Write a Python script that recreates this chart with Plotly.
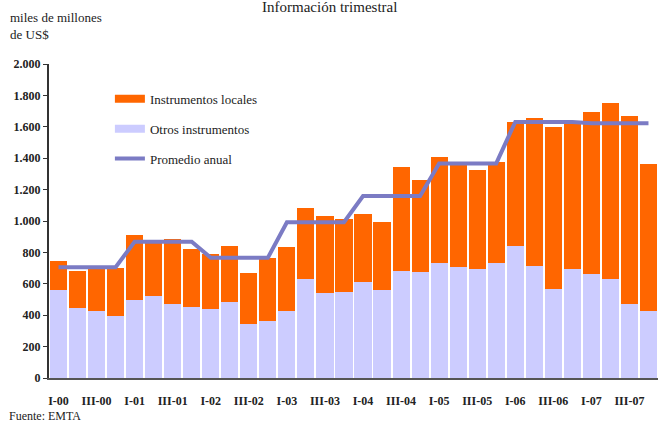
import plotly.graph_objects as go

# trimestres I-00 .. IV-07
years = ["00", "01", "02", "03", "04", "05", "06", "07"]
quarters = ["I", "II", "III", "IV"]
categorias = [f"{q}-{y}" for y in years for q in quarters]

# miles de millones de US$
otros = [560, 446, 427, 395, 497, 522, 471, 452,
         439, 484, 344, 363, 427, 631, 541, 548,
         612, 560, 683, 675, 732, 707, 694, 732,
         841, 713, 567, 694, 662, 631, 471, 427]
total = [745, 681, 700, 700, 911, 870, 885, 822,
         790, 841, 669, 764, 834, 1083, 1032, 1013,
         1045, 994, 1344, 1261, 1408, 1367, 1325, 1376,
         1631, 1656, 1599, 1625, 1694, 1752, 1669, 1363]
locales = [t - o for t, o in zip(total, otros)]
promedio_anual = [706, 868, 766, 992, 1159, 1367, 1631, 1622]
promedio = [p for p in promedio_anual for _ in quarters]

ticks_x = categorias[::2]
FONT = "Liberation Serif"
NARANJA = "#FF6600"
LILA = "#CCCCFF"
AZUL = "#7B7BC4"

fig = go.Figure()
fig.add_trace(go.Bar(x=categorias, y=otros, name="Otros instrumentos",
                     marker=dict(color=LILA, line=dict(width=0)),
                     showlegend=False))
fig.add_trace(go.Bar(x=categorias, y=locales, name="Instrumentos locales",
                     marker=dict(color=NARANJA, line=dict(width=0)),
                     showlegend=False))
fig.add_trace(go.Scatter(x=categorias, y=promedio, name="Promedio anual",
                         mode="lines", line=dict(color=AZUL, width=4),
                         legendrank=3, legendgroup="c"))

# entradas de leyenda con rectángulos anchos, como en el original
fig.add_trace(go.Scatter(x=[None], y=[None], mode="lines", name="Instrumentos locales",
                         line=dict(color=NARANJA, width=8), legendrank=1, legendgroup="a"))
fig.add_trace(go.Scatter(x=[None], y=[None], mode="lines", name="Otros instrumentos",
                         line=dict(color=LILA, width=8), legendrank=2, legendgroup="b"))

fig.update_layout(
    width=658, height=424,
    barmode="stack", bargap=0.1,
    separators=",.",
    plot_bgcolor="white", paper_bgcolor="white",
    margin=dict(l=49, r=0, t=64, b=46),
    font=dict(family=FONT, size=13, color="#222"),
    showlegend=True,
    legend=dict(x=0.1, y=0.937, xanchor="left", yanchor="top",
                bgcolor="rgba(0,0,0,0)", tracegroupgap=10,
                font=dict(family=FONT, size=13, color="#222")),
    xaxis=dict(tickmode="array", tickvals=ticks_x, ticktext=ticks_x,
               showline=True, linecolor="#555", linewidth=2,
               showgrid=False, ticks="", ticklabelstandoff=11,
               tickfont=dict(family=FONT, size=12, color="#222", weight="bold")),
    yaxis=dict(range=[0, 2000], tickvals=list(range(0, 2001, 200)),
               tickformat=",d", showgrid=False, zeroline=False,
               showline=True, linecolor="#333", linewidth=2,
               ticks="outside", ticklen=4, tickcolor="#333",
               tickfont=dict(family=FONT, size=12, color="#222", weight="bold")),
)

fig.add_annotation(text="Información trimestral", xref="paper", yref="paper",
                   x=0.46, y=1, yanchor="middle", yshift=57, showarrow=False,
                   font=dict(family=FONT, size=15, color="#222"))
fig.add_annotation(text="miles de millones<br>de US$", xref="paper", yref="paper",
                   x=-0.067, xanchor="left", y=1, yshift=20, yanchor="bottom",
                   align="left", showarrow=False,
                   font=dict(family=FONT, size=13, color="#222"))
fig.add_annotation(text="Fuente: EMTA", xref="paper", yref="paper",
                   x=-0.067, xanchor="left", y=0, yshift=-46, yanchor="bottom",
                   borderpad=0, showarrow=False,
                   font=dict(family=FONT, size=12, color="#222"))

fig.write_html("out.html", config={"displayModeBar": False},
               post_script="document.body.style.margin='0';")
